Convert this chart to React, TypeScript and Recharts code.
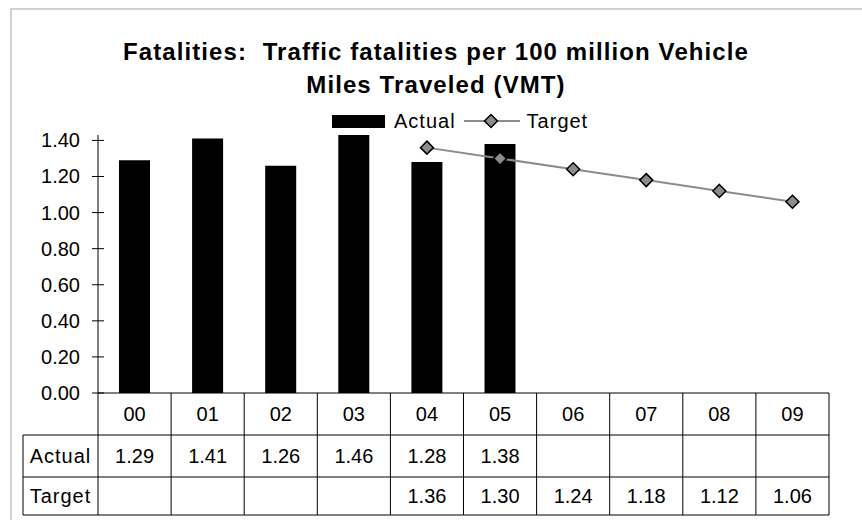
import { ComposedChart, Bar, Line, XAxis, YAxis, Legend } from "recharts";

const categories = ["00", "01", "02", "03", "04", "05", "06", "07", "08", "09"];
const actual = [1.29, 1.41, 1.26, 1.46, 1.28, 1.38, null, null, null, null];
const target = [null, null, null, null, 1.36, 1.3, 1.24, 1.18, 1.12, 1.06];
const yTicks = [0, 0.2, 0.4, 0.6, 0.8, 1.0, 1.2, 1.4];
const rowLabels = ["Actual", "Target"];

const data = categories.map((c, i) => ({ year: c, actual: actual[i], target: target[i] }));

const W = 862;
const H = 520;
const PLOT_LEFT = 98;
const PLOT_RIGHT = 829;
const COL_W = (PLOT_RIGHT - PLOT_LEFT) / categories.length;
const ROWS = [435, 477, 515];
const LABEL_LEFT = 23;
const FONT = "'Liberation Sans', Arial, sans-serif";

const fmt = (v: number | null) => (v == null ? "" : v.toFixed(2));

function YTick({ x, y, payload }: any) {
  return (
    <g>
      <line x1={x - 6} x2={x + 6} y1={y} y2={y} stroke="#000" />
      <text x={x - 18} y={y} dy={7} textAnchor="end" fontSize={20} fontFamily={FONT} fill="#000">
        {Number(payload.value).toFixed(2)}
      </text>
    </g>
  );
}

function TableTick({ x, y, payload, index }: any) {
  const left = x - COL_W / 2;
  const right = x + COL_W / 2;
  const bottom = ROWS[2];
  const textProps = { fontSize: 20, fontFamily: FONT, fill: "#000", textAnchor: "middle" as const };
  return (
    <g>
      <line x1={left} x2={left} y1={y} y2={bottom} stroke="#000" />
      {index === categories.length - 1 && <line x1={right} x2={right} y1={y} y2={bottom} stroke="#000" />}
      {ROWS.map((r) => (
        <line key={r} x1={left} x2={right} y1={r} y2={r} stroke="#000" />
      ))}
      <text x={x} y={(y + ROWS[0]) / 2} dy={7} {...textProps}>
        {payload.value}
      </text>
      <text x={x} y={(ROWS[0] + ROWS[1]) / 2} dy={7} {...textProps}>
        {fmt(actual[index])}
      </text>
      <text x={x} y={(ROWS[1] + ROWS[2]) / 2} dy={7} {...textProps}>
        {fmt(target[index])}
      </text>
      {index === 0 && (
        <g>
          <line x1={LABEL_LEFT} x2={LABEL_LEFT} y1={ROWS[0]} y2={bottom} stroke="#000" />
          {ROWS.map((r) => (
            <line key={r} x1={LABEL_LEFT} x2={left} y1={r} y2={r} stroke="#000" />
          ))}
          {rowLabels.map((lbl, k) => (
            <text
              key={lbl}
              x={(LABEL_LEFT + left) / 2}
              y={(ROWS[k] + ROWS[k + 1]) / 2}
              dy={7}
              letterSpacing={1}
              {...textProps}
            >
              {lbl}
            </text>
          ))}
        </g>
      )}
    </g>
  );
}

function Diamond({ cx, cy }: any) {
  if (cx == null || cy == null) return null;
  const r = 6.5;
  return (
    <polygon
      points={`${cx},${cy - r} ${cx + r},${cy} ${cx},${cy + r} ${cx - r},${cy}`}
      fill="#8c8c8c"
      stroke="#000"
      strokeWidth={1.5}
    />
  );
}

function LegendContent() {
  return (
    <div
      style={{
        display: "flex",
        alignItems: "center",
        marginLeft: 332,
        height: 22,
        fontFamily: FONT,
        fontSize: 20,
        letterSpacing: 1,
        color: "#000",
      }}
    >
      <span style={{ width: 53, height: 13, background: "#000", display: "inline-block" }} />
      <span style={{ marginLeft: 9 }}>Actual</span>
      <svg width={56} height={16} style={{ marginLeft: 8 }}>
        <line x1={0} x2={56} y1={8} y2={8} stroke="#8c8c8c" strokeWidth={2} />
        <Diamond cx={27} cy={8} />
      </svg>
      <span style={{ marginLeft: 7 }}>Target</span>
    </div>
  );
}

export default function App() {
  return (
    <div style={{ position: "absolute", left: 0, top: 0, width: W, height: H, background: "#fff" }}>
      <svg width={W} height={H} style={{ position: "absolute", left: 0, top: 0 }}>
        <rect x={11} y={9} width={W + 20} height={H + 20} fill="#fff" stroke="#c4c4c4" strokeWidth={1.5} />
        <g fontFamily={FONT} fontWeight="bold" fontSize={24} letterSpacing={1.1} textAnchor="middle" fill="#000">
          <text x={436} y={60} xmlSpace="preserve">
            {"Fatalities:  Traffic fatalities per 100 million Vehicle"}
          </text>
          <text x={436} y={93}>Miles Traveled (VMT)</text>
        </g>
      </svg>
      <div style={{ position: "absolute", left: 0, top: 0 }}>
        <ComposedChart width={W} height={H} data={data} margin={{ top: 135, right: W - PLOT_RIGHT, bottom: 0, left: 0 }}>
          <XAxis
            dataKey="year"
            height={H - 393}
            interval={0}
            tickSize={0}
            tickMargin={0}
            tickLine={false}
            axisLine={{ stroke: "#000" }}
            tick={<TableTick />}
          />
          <YAxis
            width={PLOT_LEFT}
            domain={[0, 1.43]}
            allowDataOverflow
            ticks={yTicks}
            tickSize={0}
            tickMargin={0}
            tickLine={false}
            axisLine={{ stroke: "#000" }}
            tick={<YTick />}
          />
          <Legend
            verticalAlign="middle"
            align="center"
            content={<LegendContent />}
            wrapperStyle={{ top: 110, left: 0, width: W }}
          />
          <Bar dataKey="actual" fill="#000" barSize={31} isAnimationActive={false} />
          <Line
            dataKey="target"
            stroke="#8c8c8c"
            strokeWidth={2}
            dot={<Diamond />}
            activeDot={false}
            isAnimationActive={false}
          />
        </ComposedChart>
      </div>
    </div>
  );
}
